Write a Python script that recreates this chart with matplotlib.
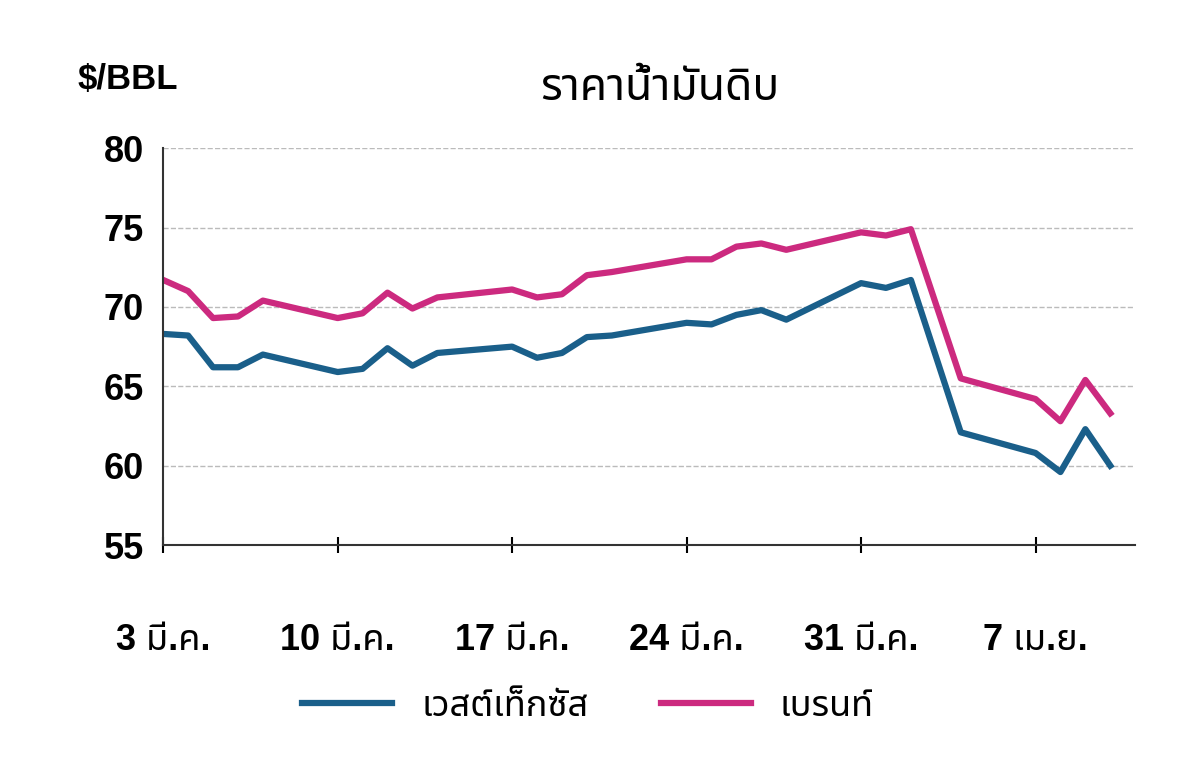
import matplotlib
matplotlib.use("Agg")
import matplotlib.pyplot as plt
import datetime as dt
from matplotlib import font_manager

dates = ["2025-03-03","2025-03-04","2025-03-05","2025-03-06","2025-03-07",
         "2025-03-10","2025-03-11","2025-03-12","2025-03-13","2025-03-14",
         "2025-03-17","2025-03-18","2025-03-19","2025-03-20","2025-03-21",
         "2025-03-24","2025-03-25","2025-03-26","2025-03-27","2025-03-28",
         "2025-03-31","2025-04-01","2025-04-02","2025-04-04",
         "2025-04-07","2025-04-08","2025-04-09","2025-04-10"]
wti = [68.3,68.2,66.2,66.2,67.0, 65.9,66.1,67.4,66.3,67.1,
       67.5,66.8,67.1,68.1,68.2, 69.0,68.9,69.5,69.8,69.2,
       71.5,71.2,71.7,62.1, 60.8,59.6,62.3,60.0]
brent = [71.7,71.0,69.3,69.4,70.4, 69.3,69.6,70.9,69.9,70.6,
         71.1,70.6,70.8,72.0,72.2, 73.0,73.0,73.8,74.0,73.6,
         74.7,74.5,74.9,65.5, 64.2,62.8,65.4,63.3]
tick_dates = ["2025-03-03","2025-03-10","2025-03-17","2025-03-24","2025-03-31","2025-04-07"]
tick_labels = ["3 มี.ค.","10 มี.ค.","17 มี.ค.","24 มี.ค.","31 มี.ค.","7 เม.ย."]
series_names = ["เวสต์เท็กซัส","เบรนท์"]
title = "ราคาน้ำมันดิบ"

avail = {f.name for f in font_manager.fontManager.ttflist}
fams = [f for f in ["Noto Sans Thai","Noto Sans Thai UI","Loma","Garuda","Tlwg Typo","Norasi","Sarabun","Tahoma"] if f in avail]
plt.rcParams['font.family'] = ['Liberation Sans'] + fams + ['DejaVu Sans']
plt.rcParams['font.weight'] = 'bold'

x = [dt.datetime.strptime(d, "%Y-%m-%d") for d in dates]
xt = [dt.datetime.strptime(d, "%Y-%m-%d") for d in tick_dates]

fig = plt.figure(figsize=(12, 7.72), dpi=100)
ax = fig.add_axes([0.136, 0.294, 0.81, 0.514])
ax.plot(x, wti, color="#1a5f8a", lw=4.5, label=series_names[0])
ax.plot(x, brent, color="#cc2a7f", lw=4.5, label=series_names[1])
ax.set_ylim(55, 80)
ax.set_yticks([55,60,65,70,75,80])
ax.set_xlim(x[0], dt.datetime(2025,4,11))
ax.set_xticks(xt)
ax.set_xticklabels(tick_labels)
ax.tick_params(axis='x', length=12, width=1.5, direction='inout', pad=50, labelsize=26)
ax.tick_params(axis='y', length=0, pad=14, labelsize=26)
ax.grid(axis='y', ls='--', color='#bbbbbb', lw=1)
for s in ['top','right']:
    ax.spines[s].set_visible(False)
for s in ['left','bottom']:
    ax.spines[s].set_linewidth(1.5)
    ax.spines[s].set_color('#333333')
fig.text(0.065, 0.885, "$/BBL", fontsize=25, fontweight='bold')
fig.text(0.55, 0.87, title, fontsize=32, fontweight='bold', ha='center')
fig.legend(loc='lower center', bbox_to_anchor=(0.49, 0.02), ncol=2, frameon=False,
           fontsize=26, handlelength=2.5, columnspacing=2)
fig.savefig("out.png", dpi=100)
